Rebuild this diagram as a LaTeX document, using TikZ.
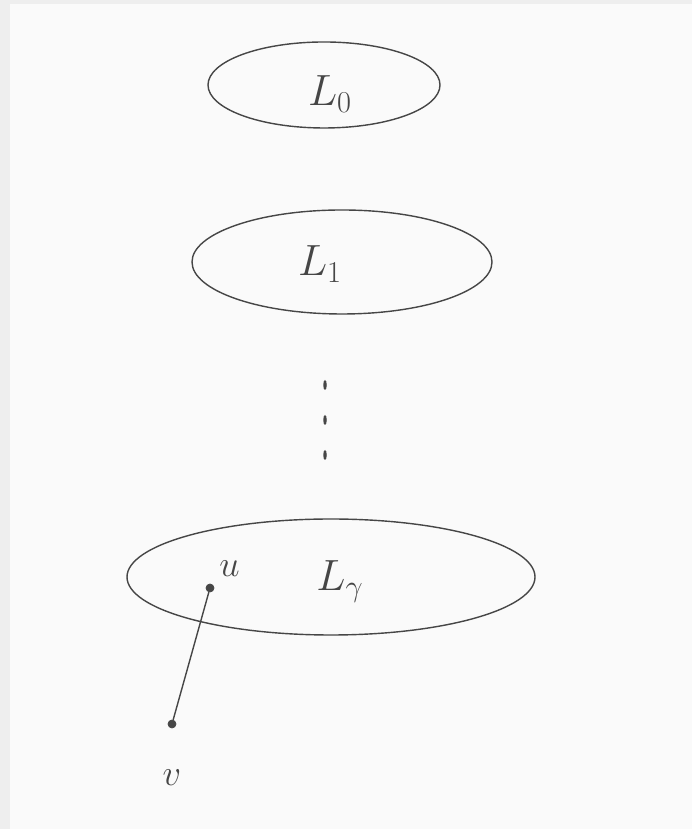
\documentclass[tikz,border=0pt]{standalone}
\usetikzlibrary{shapes.geometric}
\usetikzlibrary{positioning}

\definecolor{pencil}{RGB}{70,70,70}
\definecolor{paper}{RGB}{250,250,250}
\definecolor{scanedge}{RGB}{238,238,238}

\tikzset{
  layer/.style={ellipse,draw=pencil,line width=0.8pt,inner sep=0pt},
  pt/.style={circle,fill=pencil,draw=pencil,inner sep=0pt,minimum size=0.16cm},
  dotmark/.style={ellipse,fill=pencil,inner sep=0pt,minimum width=0.07cm,minimum height=0.2cm},
  lbl/.style={text=pencil,font=\fontsize{26}{28}\selectfont},
  vlbl/.style={text=pencil,font=\fontsize{20}{22}\selectfont}
}

\begin{document}
\begin{tikzpicture}
\fill[scanedge] (0,0) rectangle (13.84,16.58);
\fill[paper] (0.2,0) rectangle (13.84,16.5);
\useasboundingbox (0,0) rectangle (13.84,16.58);

\node[layer,minimum width=4.64cm,minimum height=1.72cm] (L0) at (6.48,14.88) {};
\node[lbl] at (6.6,14.7) {$L_0$};
\node[layer,minimum width=6.0cm,minimum height=2.08cm] (L1) at (6.84,11.34) {};
\node[lbl] at (6.4,11.3) {$L_1$};

% vertical dots between the layers
\foreach \i/\y in {1/8.88,2/8.18,3/7.48}
  \node[dotmark] (d\i) at (6.5,\y) {};

\node[layer,minimum width=8.16cm,minimum height=2.32cm] (Lg) at (6.62,5.04) {};
\node[lbl] at (6.8,4.95) {$L_\gamma$};

\node[pt] (u) at (4.2,4.82) {};
\node[vlbl,above right=0.05cm and 0.0cm of u] (ulbl) {$u$};
\node[pt] (v) at (3.44,2.1) {};
\node[vlbl,below=0.7cm of v] (vlbl) {$v$};

\draw[pencil,line width=0.8pt] (u) -- (v);
\end{tikzpicture}
\end{document}
